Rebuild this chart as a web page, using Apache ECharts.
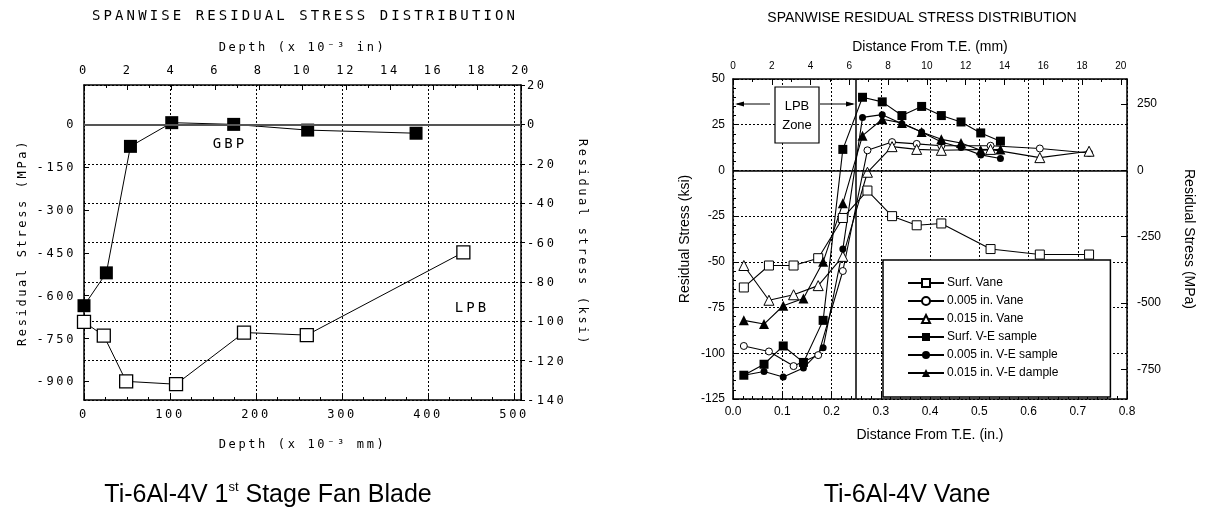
<!DOCTYPE html>
<html>
<head>
<meta charset="utf-8">
<script src="https://cdn.jsdelivr.net/npm/echarts@6/dist/echarts.min.js"></script>
<style>
  body { margin: 0; background: #fff; }
  #main { position: absolute; left: 0; top: 0; width: 1206px; height: 521px; }
  #left { position: absolute; left: 0; top: 0; width: 603px; height: 470px; }
  #left svg text { letter-spacing: 0.22em; }
</style>
</head>
<body>
<div id="main"></div>
<div id="left"></div>
<script>
// ---- left panel: fan blade, depth in 10^-3 mm, stress in MPa
const gbpDepth = [0, 26, 54, 102, 174, 260, 386]
const gbpStress = [-635, -520, -77, 6, 0, -20, -31]
const lpbDepth = [0, 23, 49, 107, 186, 259, 441]
const lpbStress = [-692, -740, -900, -910, -729, -738, -448]
const mpaTicks = [0, -150, -300, -450, -600, -750, -900]

// ---- right panel: vane, distance from T.E. in inches, stress in ksi
const vaneDist = [0.022, 0.073, 0.123, 0.173, 0.223, 0.273, 0.323, 0.373, 0.423, 0.523, 0.623, 0.723]
const surfVane = [-64, -52, -52, -48, -26, -11, -25, -30, -29, -43, -46, -46]
const vane005 = [-96, -99, -107, -101, -55, 11, 15.5, 14.5, 13.5, 13.5, 12, 9.5]
const vane015 = [-52, -71, -68, -63, -47, -1, 13, 11.5, 11, 11.5, 7, 10.5]
const veDist = [0.022, 0.063, 0.102, 0.143, 0.183, 0.223, 0.263, 0.303, 0.343, 0.383, 0.423, 0.463, 0.503, 0.543]
const surfVE = [-112, -106, -96, -105, -82, 11.5, 40, 37.5, 30, 35, 30, 26.5, 20.5, 16]
const ve005 = [-112, -110, -113, -108, -97, -43, 29, 30.5, 25.5, 21, 15.5, 12.5, 8.5, 6.5]
const ve015 = [-82, -84, -74, -70, -50, -18, 19, 28, 26, 21, 17, 15, 11, 11.5]
const mpaTicksRight = [250, 0, -250, -500, -750]

const KSI_TO_MPA = 6.89476
const zip = (xs, ys) => xs.map((x, i) => [x, ys[i]])

const mono = 'DejaVu Sans Mono'
const sans = 'Liberation Sans, Arial, sans-serif'
const black = '#000'
const dotted = {show: true, lineStyle: {color: black, type: [2, 2], width: 1}}
const axisLine = {show: true, onZero: false, lineStyle: {color: black, width: 1.5}}

// left chart (svg so the letter spacing of the original mono font can be mimicked)
const leftChart = echarts.init(document.getElementById('left'), null, {renderer: 'svg'})
const leftLabel = {color: black, fontFamily: mono, fontSize: 12}
leftChart.setOption({
  animation: false,
  textStyle: {fontFamily: mono, color: black},
  grid: {left: 84, right: 82, top: 85, bottom: 70},
  graphic: [
    {type: 'text', x: 305, y: 15, style: {text: 'SPANWISE RESIDUAL STRESS DISTRIBUTION', font: '14px ' + mono, fill: black, align: 'center', verticalAlign: 'middle'}},
    {type: 'text', x: 230, y: 143, style: {text: 'GBP', font: '14px ' + mono, fill: black, align: 'center', verticalAlign: 'middle'}},
    {type: 'text', x: 472, y: 307, style: {text: 'LPB', font: '14px ' + mono, fill: black, align: 'center', verticalAlign: 'middle'}}
  ],
  xAxis: [
    {
      type: 'value', position: 'bottom', min: 0, max: 508, interval: 100,
      axisLine: axisLine,
      axisTick: {inside: true, length: 5, lineStyle: {color: black}},
      minorTick: {show: true, splitNumber: 4, length: 3, lineStyle: {color: black}},
      axisLabel: Object.assign({showMaxLabel: false, margin: 8}, leftLabel),
      splitLine: dotted,
      name: 'Depth (x 10⁻³ mm)', nameLocation: 'middle', nameGap: 38,
      nameTextStyle: {fontFamily: mono, fontSize: 12, color: black}
    },
    {
      type: 'value', position: 'top', min: 0, max: 20, interval: 2,
      axisLine: axisLine,
      axisTick: {inside: true, length: 5, lineStyle: {color: black}},
      minorTick: {show: true, splitNumber: 2, length: 3, lineStyle: {color: black}},
      axisLabel: Object.assign({margin: 9}, leftLabel),
      splitLine: {show: false},
      name: 'Depth (x 10⁻³ in)', nameLocation: 'middle', nameGap: 32,
      nameTextStyle: {fontFamily: mono, fontSize: 12, color: black}
    }
  ],
  yAxis: [
    {
      type: 'value', position: 'left', min: -140 * KSI_TO_MPA, max: 20 * KSI_TO_MPA,
      axisLine: axisLine,
      axisTick: {inside: true, length: 5, customValues: mpaTicks, lineStyle: {color: black}},
      axisLabel: Object.assign({customValues: mpaTicks, margin: 8}, leftLabel),
      splitLine: {show: false},
      name: 'Residual Stress (MPa)', nameLocation: 'middle', nameGap: 56, nameRotate: 90,
      nameTextStyle: {fontFamily: mono, fontSize: 12, color: black}
    },
    {
      type: 'value', position: 'right', min: -140, max: 20, interval: 20,
      axisLine: axisLine,
      axisTick: {inside: false, length: 4, lineStyle: {color: black}},
      axisLabel: Object.assign({margin: 6}, leftLabel),
      splitLine: dotted,
      name: 'Residual stress (ksi)', nameLocation: 'middle', nameGap: 56, nameRotate: -90,
      nameTextStyle: {fontFamily: mono, fontSize: 12, color: black}
    }
  ],
  series: [
    {
      name: 'GBP', type: 'line', xAxisIndex: 0, yAxisIndex: 0,
      data: zip(gbpDepth, gbpStress),
      symbol: 'rect', symbolSize: 13,
      itemStyle: {color: black},
      lineStyle: {color: black, width: 1},
      markLine: {
        silent: true, symbol: 'none', label: {show: false},
        lineStyle: {color: '#555', width: 2, type: 'solid'},
        data: [{yAxis: 0}]
      },
      z: 3
    },
    {
      name: 'LPB', type: 'line', xAxisIndex: 0, yAxisIndex: 0,
      data: zip(lpbDepth, lpbStress),
      symbol: 'rect', symbolSize: 13,
      itemStyle: {color: '#fff', borderColor: black, borderWidth: 1.3},
      lineStyle: {color: black, width: 1},
      z: 3
    }
  ]
})

// main chart: right panel and the two captions
const chart = echarts.init(document.getElementById('main'))
const rLabel = {color: black, fontFamily: sans, fontSize: 12}
const lineSeries = (name, xs, ys, symbol, size, filled) => ({
  name: name, type: 'line', xAxisIndex: 0, yAxisIndex: 0,
  data: zip(xs, ys),
  symbol: symbol, symbolSize: size,
  itemStyle: filled ? {color: black} : {color: '#fff', borderColor: black, borderWidth: 1},
  lineStyle: {color: black, width: 1.1},
  z: 3
})

const series = [
  lineSeries('Surf. Vane', vaneDist, surfVane, 'rect', 9, false),
  lineSeries('0.005 in. Vane', vaneDist, vane005, 'circle', 7, false),
  lineSeries('0.015 in. Vane', vaneDist, vane015, 'triangle', 10, false),
  lineSeries('Surf. V-E sample', veDist, surfVE, 'rect', 9, true),
  lineSeries('0.005 in. V-E sample', veDist, ve005, 'circle', 7, true),
  lineSeries('0.015 in. V-E dample', veDist, ve015, 'triangle', 10, true)
]
series[0].markLine = {
  silent: true, symbol: 'none', label: {show: false},
  lineStyle: {color: black, width: 1.5, type: 'solid'},
  data: [{yAxis: 0}, {xAxis: 0.25}]
}

chart.setOption({
  animation: false,
  textStyle: {fontFamily: sans, color: black},
  grid: {left: 733, right: 79, top: 79, bottom: 122},
  legend: {
    orient: 'vertical', left: 883, top: 260,
    selectedMode: false,
    backgroundColor: '#fff',
    borderColor: black, borderWidth: 1.5,
    padding: [17, 52, 18, 24],
    itemWidth: 36, itemHeight: 10, itemGap: 6,
    textStyle: {fontFamily: sans, fontSize: 12, color: black, padding: [0, 0, 0, -2]}
  },
  graphic: [
    {type: 'text', x: 922, y: 18, style: {text: 'SPANWISE RESIDUAL STRESS DISTRIBUTION', font: '14px ' + sans, fill: black, align: 'center', verticalAlign: 'middle'}},
    {
      type: 'text', x: 268, y: 495,
      style: {
        text: 'Ti-6Al-4V 1{sup|st} Stage Fan Blade', font: '25px ' + sans, fill: black,
        align: 'center', verticalAlign: 'middle',
        rich: {sup: {fontSize: 13, fontFamily: sans, verticalAlign: 'top', lineHeight: 28}}
      }
    },
    {type: 'text', x: 907, y: 495, style: {text: 'Ti-6Al-4V Vane', font: '25px ' + sans, fill: black, align: 'center', verticalAlign: 'middle'}},
    // LPB zone marker
    {type: 'rect', shape: {x: 775, y: 87, width: 44, height: 56}, style: {fill: '#fff', stroke: black, lineWidth: 1.2}, z: 10},
    {type: 'text', x: 797, y: 106, style: {text: 'LPB', font: '13px ' + sans, fill: black, align: 'center', verticalAlign: 'middle'}, z: 11},
    {type: 'text', x: 797, y: 125, style: {text: 'Zone', font: '13px ' + sans, fill: black, align: 'center', verticalAlign: 'middle'}, z: 11},
    {type: 'line', shape: {x1: 737, y1: 104, x2: 770, y2: 104}, style: {stroke: black, lineWidth: 1}, z: 10},
    {type: 'polygon', shape: {points: [[735, 104], [744, 101.5], [744, 106.5]]}, style: {fill: black}, z: 10},
    {type: 'line', shape: {x1: 820, y1: 104, x2: 853, y2: 104}, style: {stroke: black, lineWidth: 1}, z: 10},
    {type: 'polygon', shape: {points: [[855, 104], [846, 101.5], [846, 106.5]]}, style: {fill: black}, z: 10}
  ],
  xAxis: [
    {
      type: 'value', position: 'bottom', min: 0, max: 0.8, interval: 0.1,
      axisLine: axisLine,
      axisTick: {inside: true, length: 6, lineStyle: {color: black}},
      minorTick: {show: true, splitNumber: 5, length: 3, lineStyle: {color: black}},
      axisLabel: Object.assign({margin: 7, formatter: v => v.toFixed(1)}, rLabel),
      splitLine: dotted,
      name: 'Distance From T.E. (in.)', nameLocation: 'middle', nameGap: 29,
      nameTextStyle: {fontFamily: sans, fontSize: 14, color: black}
    },
    {
      type: 'value', position: 'top', min: 0, max: 20 * 1.016, interval: 2,
      axisLine: axisLine,
      axisTick: {inside: true, length: 6, lineStyle: {color: black}},
      minorTick: {show: true, splitNumber: 2, length: 3, lineStyle: {color: black}},
      axisLabel: Object.assign({margin: 8, showMaxLabel: false}, rLabel, {fontSize: 10}),
      splitLine: {show: false},
      name: 'Distance From T.E. (mm)', nameLocation: 'middle', nameGap: 25,
      nameTextStyle: {fontFamily: sans, fontSize: 14, color: black}
    }
  ],
  yAxis: [
    {
      type: 'value', position: 'left', min: -125, max: 50, interval: 25,
      axisLine: axisLine,
      axisTick: {inside: true, length: 6, lineStyle: {color: black}},
      minorTick: {show: true, splitNumber: 5, length: 3, lineStyle: {color: black}},
      axisLabel: Object.assign({margin: 8}, rLabel),
      splitLine: dotted,
      name: 'Residual Stress (ksi)', nameLocation: 'middle', nameGap: 41, nameRotate: 90,
      nameTextStyle: {fontFamily: sans, fontSize: 14, color: black}
    },
    {
      type: 'value', position: 'right', min: -125 * KSI_TO_MPA, max: 50 * KSI_TO_MPA,
      axisLine: axisLine,
      axisTick: {inside: true, length: 6, customValues: mpaTicksRight, lineStyle: {color: black}},
      axisLabel: Object.assign({margin: 10, customValues: mpaTicksRight}, rLabel),
      splitLine: {show: false},
      name: 'Residual Stress (MPa)', nameLocation: 'middle', nameGap: 55, nameRotate: -90,
      nameTextStyle: {fontFamily: sans, fontSize: 14, color: black}
    }
  ],
  series: series
})
</script>
</body>
</html>
